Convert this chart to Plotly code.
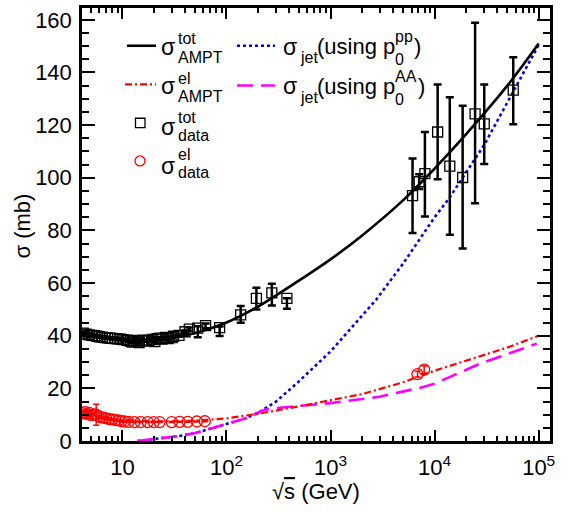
import plotly.graph_objects as go

# ---------------- data ----------------
# AMPT total cross section curve
E_tot_curve = [4.1, 5, 7, 10, 15, 20, 30, 50, 100, 200, 300, 500, 1000, 2000, 5000, 10000, 20000, 50000, 100000]
sig_tot_curve = [40.5, 40.0, 39.2, 38.6, 38.4, 38.6, 39.3, 41.0, 45.0, 51.0, 55.3, 61.0, 69.0, 78.0, 91.5, 103.5, 116.5, 135.0, 151.0]

# AMPT elastic cross section curve
E_el_curve = [4.1, 5, 7, 10, 15, 20, 30, 50, 100, 200, 500, 1000, 2000, 5000, 10000, 20000, 50000, 100000]
sig_el_curve = [10.2, 9.6, 8.7, 8.0, 7.6, 7.5, 7.5, 7.7, 8.6, 10.3, 13.2, 15.4, 17.8, 22.3, 26.7, 30.5, 35.5, 40.0]

# jet cross section using p0(pp)
E_jet_pp = [14, 20, 35, 50, 86, 150, 208, 300, 508, 1000, 2760, 5000, 10000, 13800, 30000, 51000, 100000]
sig_jet_pp = [0.0, 0.8, 1.9, 3.0, 5.7, 8.5, 11.0, 15.0, 23.0, 34.0, 53.8, 67.5, 85.0, 92.2, 112.5, 129.0, 150.5]

# jet cross section using p0(AA)
E_jet_AA = [14, 20, 35, 50, 86, 150, 208, 234, 300, 500, 1000, 2950, 7780, 10000, 27400, 50000, 96000]
sig_jet_AA = [0.0, 0.8, 1.9, 3.0, 5.7, 8.5, 11.0, 11.9, 12.5, 13.4, 14.4, 16.8, 20.5, 21.8, 29.4, 33.0, 37.0]

# total cross section data
E_tot_data = [4.2, 4.5, 4.8, 5.1, 5.4, 5.7, 6.0, 6.4, 6.8, 7.2, 7.6, 8.0, 8.5, 9.0, 9.6, 10.2, 11.0,
              11.5, 12.0, 12.5, 13.0, 13.8, 14.5, 15.3, 16.0, 17.0, 18.0, 19.5, 20.5, 21.5, 23.0, 24.0,
              26.0, 27.5, 30.0, 31.0, 35.0, 40.0, 44.0, 53.0, 63.0, 86.0, 137.0, 194.0, 273.0, 381.0,
              6140, 7110, 8070, 10700, 14000, 18600, 24500, 30000, 57000]
sig_tot_data = [41.0, 40.6, 40.3, 40.1, 40.0, 39.8, 39.6, 39.5, 39.3, 39.2, 39.1, 39.0, 38.9, 38.8, 38.7, 38.5, 38.3,
                38.1, 38.0, 37.6, 38.2, 38.0, 37.4, 38.1, 38.3, 38.0, 38.2, 38.6, 37.8, 38.9, 39.1, 38.7,
                39.4, 38.9, 39.3, 39.8, 40.1, 41.5, 42.5, 42.9, 43.8, 43.1, 47.9, 54.2, 56.3, 54.2,
                93.2, 98.5, 101.6, 117.4, 104.4, 100.1, 124.3, 120.5, 133.3]
err_tot_plus = [0.6, 0.5, 0.5, 0.4, 0.4, 0.4, 0.3, 0.3, 0.3, 0.3, 0.3, 0.3, 0.3, 0.3, 0.3, 0.3, 0.3,
                0.3, 0.3, 0.3, 0.3, 0.3, 0.3, 0.3, 0.3, 0.3, 0.3, 0.3, 0.3, 0.3, 0.3, 0.3,
                0.3, 0.3, 0.3, 0.3, 0.4, 0.5, 0.6, 0.7, 0.8, 0.4, 3.4, 4.0, 3.4, 0.0,
                14.1, 2.8, 15.8, 18.0, 26.2, 27.3, 34.6, 14.9, 12.5]
err_tot_minus = [0.6, 0.5, 0.5, 0.4, 0.4, 0.4, 0.3, 0.3, 0.3, 0.3, 0.3, 0.3, 0.3, 0.3, 0.3, 0.3, 0.3,
                 0.3, 0.3, 0.3, 0.3, 0.3, 0.3, 0.3, 0.3, 0.3, 0.3, 0.3, 0.3, 0.3, 0.3, 0.3,
                 0.3, 0.3, 0.3, 0.3, 0.4, 0.5, 0.6, 3.5, 1.0, 3.2, 3.0, 4.2, 4.8, 4.0,
                 14.2, 2.8, 16.3, 18.0, 26.0, 27.0, 34.0, 15.3, 13.0]

# elastic cross section data
E_el_data = [4.2, 4.4, 4.6, 4.8, 5.0, 5.3, 5.6, 5.9, 6.2, 6.6, 7.0, 7.5, 8.0, 8.6, 9.2, 9.8, 10.5, 11.5,
             13.1, 15.0, 17.5, 20.0, 22.8, 29.8, 35.5, 42.4, 52.0, 62.0, 6850, 7940]
sig_el_data = [10.5, 11.0, 10.2, 10.7, 9.8, 10.1, 10.0, 9.4, 9.0, 8.9, 8.6, 8.3, 8.2, 7.9, 7.8, 7.5, 7.4, 7.3,
               7.2, 7.2, 7.2, 7.2, 7.2, 7.2, 7.3, 7.3, 7.4, 7.5, 25.4, 27.1]
err_el = [0.8, 0.8, 0.6, 0.6, 0.5, 0.5, 4.0, 0.4, 0.4, 0.3, 0.3, 0.3, 0.3, 0.3, 0.3, 0.3, 0.3, 0.3,
          0.2, 0.2, 0.2, 0.2, 0.2, 0.2, 0.2, 0.2, 0.2, 0.2, 1.1, 1.4]

x_tickvals = [10, 100, 1000, 10000, 100000]
x_ticktext = ["10", "10<sup>2</sup>", "10<sup>3</sup>", "10<sup>4</sup>", "10<sup>5</sup>"]
y_tickvals = [0, 20, 40, 60, 80, 100, 120, 140, 160]
x_minor_vals = [5, 6, 7, 8, 9, 20, 30, 40, 50, 60, 70, 80, 90,
                200, 300, 400, 500, 600, 700, 800, 900,
                2000, 3000, 4000, 5000, 6000, 7000, 8000, 9000,
                20000, 30000, 40000, 50000, 60000, 70000, 80000, 90000]

FONT = "Liberation Sans, Arial, Helvetica, sans-serif"

fig = go.Figure()

fig.add_trace(go.Scatter(x=E_jet_pp, y=sig_jet_pp, mode="lines",
                         line=dict(color="#0000ee", width=2.6, dash="dot"), showlegend=False))
fig.add_trace(go.Scatter(x=E_jet_AA, y=sig_jet_AA, mode="lines",
                         line=dict(color="#ff00ff", width=2.6, dash="16px,8px"), showlegend=False))
fig.add_trace(go.Scatter(x=E_el_curve, y=sig_el_curve, mode="lines",
                         line=dict(color="#ff0000", width=2.2, dash="7px,3px,2px,3px"), showlegend=False))
fig.add_trace(go.Scatter(x=E_tot_curve, y=sig_tot_curve, mode="lines", line_shape="spline",
                         line=dict(color="black", width=2.6), showlegend=False))
fig.add_trace(go.Scatter(x=E_el_data, y=sig_el_data, mode="markers",
                         error_y=dict(type="data", array=err_el, color="red", thickness=1.5, width=3),
                         marker=dict(symbol="circle-open", size=11, color="red", line=dict(width=1.3)),
                         showlegend=False))
fig.add_trace(go.Scatter(x=E_tot_data, y=sig_tot_data, mode="markers",
                         error_y=dict(type="data", array=err_tot_plus, arrayminus=err_tot_minus,
                                      color="black", thickness=2.5, width=4),
                         marker=dict(symbol="square-open", size=10, color="black", line=dict(width=1.3)),
                         showlegend=False))

# ---------------- layout ----------------
L, R, T, B = 82, 550, 5, 441
W, H = 572, 516


def px(x):
    return (x - L) / (R - L)


def py(y):
    return (B - y) / (B - T)


fig.update_layout(
    width=W, height=H,
    margin=dict(l=L, r=W - R, t=T, b=H - B),
    paper_bgcolor="white", plot_bgcolor="white",
    font=dict(family=FONT, size=22, color="black"),
    showlegend=False,
)
fig.update_xaxes(type="log", range=[0.612, 5.109], showgrid=False, zeroline=False,
                 showline=True, linecolor="black", linewidth=2.5, mirror="allticks",
                 ticks="inside", ticklen=11, tickwidth=2, tickcolor="black",
                 tickvals=x_tickvals, ticktext=x_ticktext, ticklabelstandoff=5,
                 tickfont=dict(size=22),
                 minor=dict(ticks="inside", ticklen=5.5, tickwidth=1.6, tickcolor="black",
                            tickvals=x_minor_vals))
fig.update_yaxes(range=[0, 164.5], showgrid=False, zeroline=False,
                 showline=True, linecolor="black", linewidth=2.5, mirror="allticks",
                 ticks="inside", ticklen=13, tickwidth=2, tickcolor="black",
                 tickvals=y_tickvals, ticklabelstandoff=3, tickfont=dict(size=22),
                 minor=dict(ticks="inside", ticklen=7, tickwidth=1.6, tickcolor="black", dtick=5))

ann = []
shapes = []


def text(x, y, s, size, anchor="left", color="black"):
    ann.append(dict(x=px(x), y=py(y), xref="paper", yref="paper", text=s, showarrow=False,
                    xanchor=anchor, yanchor="middle", font=dict(size=size, color=color, family=FONT)))


# axis titles
text(316, 492, "√<span style='text-decoration:overline'>s</span> (GeV)", 22, "center")
ann.append(dict(x=px(22), y=py(225), xref="paper", yref="paper", text="σ (mb)", showarrow=False,
                textangle=-90, xanchor="center", yanchor="middle", font=dict(size=22, family=FONT)))

MAIN, SUB = 23, 16
# legend row 1: total AMPT
shapes.append(dict(type="line", xref="paper", yref="paper", x0=px(127), x1=px(156), y0=py(43), y1=py(43),
                   line=dict(color="black", width=2.6)))
text(159, 44, "σ", MAIN)
text(176, 36, "tot", SUB)
text(176, 55, "AMPT", SUB)
# row 2: elastic AMPT
shapes.append(dict(type="line", xref="paper", yref="paper", x0=px(125), x1=px(156), y0=py(82), y1=py(82),
                   line=dict(color="red", width=2.2, dash="7px,3px,2px,3px")))
text(159, 84, "σ", MAIN)
text(176, 76, "el", SUB)
text(176, 94, "AMPT", SUB)
# row 3: total data
shapes.append(dict(type="rect", xref="paper", yref="paper", x0=px(135.5), x1=px(145), y0=py(116), y1=py(125.5),
                   line=dict(color="black", width=1.3)))
text(159, 125, "σ", MAIN)
text(176, 115, "tot", SUB)
text(176, 133, "data", SUB)
# row 4: elastic data
shapes.append(dict(type="circle", xref="paper", yref="paper", x0=px(135), x1=px(145), y0=py(154), y1=py(164),
                   line=dict(color="red", width=1.3)))
text(159, 164, "σ", MAIN)
text(176, 153, "el", SUB)
text(176, 171, "data", SUB)
# jet pp
shapes.append(dict(type="line", xref="paper", yref="paper", x0=px(237), x1=px(275), y0=py(43), y1=py(43),
                   line=dict(color="#0000ee", width=2.6, dash="dot")))
text(281, 44, "σ", MAIN)
text(298, 55, "jet", SUB)
text(315, 44, "(using p", 22)
text(393, 34, "pp", SUB)
text(393, 57, "0", SUB)
text(412, 44, ")", 22)
# jet AA
shapes.append(dict(type="line", xref="paper", yref="paper", x0=px(237), x1=px(275), y0=py(83), y1=py(83),
                   line=dict(color="#ff00ff", width=2.6, dash="16px,8px")))
text(281, 84, "σ", MAIN)
text(298, 95, "jet", SUB)
text(315, 84, "(using p", 22)
text(393, 74, "AA", SUB)
text(393, 97, "0", SUB)
text(416, 84, ")", 22)

fig.update_layout(annotations=ann, shapes=shapes)
fig.write_html("out.html")
